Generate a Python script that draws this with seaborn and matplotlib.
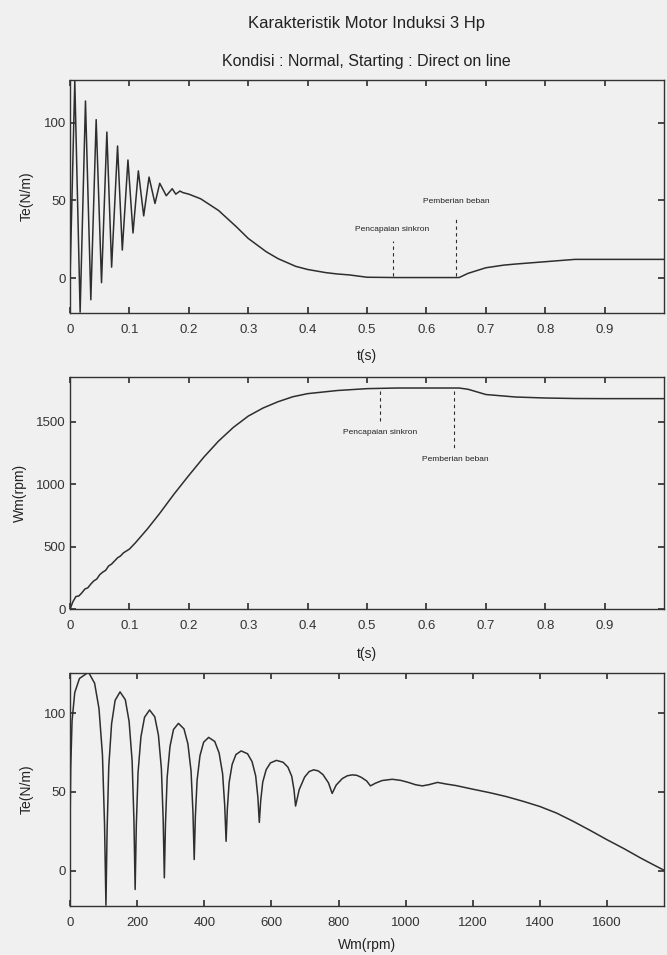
import matplotlib
matplotlib.use("Agg")
import matplotlib.pyplot as plt
import seaborn as sns
import pandas as pd

# ---------------- data ----------------
title_main = "Karakteristik Motor Induksi 3 Hp"
title_sub = "Kondisi : Normal, Starting : Direct on line"

# Panel 1: electromagnetic torque vs time
t1 = [0, 0.008, 0.017, 0.026, 0.035, 0.044, 0.053, 0.062, 0.070, 0.080, 0.088,
      0.0975, 0.106, 0.115, 0.124, 0.133, 0.143, 0.151, 0.162, 0.172, 0.178,
      0.185, 0.19, 0.2, 0.22, 0.25, 0.28, 0.3, 0.33, 0.35, 0.38, 0.4, 0.43,
      0.45, 0.47, 0.5, 0.55, 0.6, 0.655, 0.67, 0.7, 0.73, 0.75, 0.8, 0.85,
      0.9, 1.0]
te1 = [0, 127, -22, 114, -14, 102, -3, 94, 7, 85, 18, 76, 29, 69, 40, 65, 48,
       61, 53, 57.5, 54, 56, 55, 54, 51, 43.5, 33, 25.5, 17, 12.5, 7.5, 5.5,
       3.5, 2.6, 2, 0.5, 0.3, 0.3, 0.3, 3, 6.6, 8.3, 9, 10.5, 12, 12, 12]

# Panel 2: rotor speed vs time
t2 = [0, 0.005, 0.01, 0.015, 0.02, 0.025, 0.03, 0.035, 0.04, 0.045, 0.05,
      0.055, 0.06, 0.065, 0.07, 0.075, 0.08, 0.085, 0.09, 0.1, 0.11, 0.12,
      0.13, 0.15, 0.175, 0.2, 0.225, 0.25, 0.275, 0.3, 0.325, 0.35, 0.375,
      0.4, 0.45, 0.5, 0.55, 0.6, 0.655, 0.67, 0.7, 0.75, 0.8, 0.85, 0.9, 1.0]
wm2 = [0, 60, 100, 105, 130, 160, 170, 200, 225, 240, 275, 295, 310, 345, 360,
       385, 410, 425, 450, 480, 530, 585, 640, 760, 920, 1070, 1215, 1345,
       1455, 1545, 1610, 1660, 1700, 1725, 1750, 1765, 1770, 1770, 1770, 1760,
       1718, 1698, 1690, 1686, 1685, 1685]

# Panel 3: torque vs speed
wm3 = [0, 2, 6, 14, 28, 55, 73.2, 86.2, 96.6, 102.8, 107,
       110.4, 115.4, 123.8, 134.3, 149, 164.75, 176, 185, 190.4, 194,
       197.4, 202.6, 211.2, 222, 237, 252.4, 263.4, 272.2, 277.5, 281,
       284.4, 289.4, 297.8, 308.3, 323, 339.5, 351.2, 360.6, 366.2, 370,
       373.4, 378.6, 387.2, 398, 413, 431.2, 444.2, 454.6, 460.8, 465,
       468.6, 474, 483, 494.3, 510, 528.9, 542.4, 553.2, 559.7, 564,
       568.1, 574.2, 584.4, 597.2, 615, 634.95, 649.2, 660.6, 667.4, 672,
       682.8, 699, 712.5, 726, 739.75, 753.5, 770, 781,
       793, 811, 826, 841, 854.5, 868, 884, 895,
       910, 930, 960, 985, 1005, 1030, 1050, 1070, 1095, 1120, 1150,
       1200, 1250, 1300, 1350, 1400, 1450, 1500, 1550, 1600, 1650, 1700,
       1740, 1770]
te3 = [28, 65, 95, 113, 122, 126, 119, 103, 73.5, 29.5, -22,
       25.4, 66, 93.2, 108.1, 113.5, 108.5, 94.7, 69.6, 31.9, -12,
       27.9, 62.1, 84.9, 97.4, 102, 97.7, 86, 64.7, 32.7, -4.6,
       29.7, 59.2, 78.8, 89.6, 93.5, 90, 80.5, 63.2, 37.3, 7,
       34.2, 57.4, 73, 81.5, 84.6, 82, 74.7, 61.5, 41.7, 18.6,
       38.7, 55.9, 67.4, 73.7, 76, 74.2, 69.2, 60.1, 46.5, 30.6,
       44.4, 56.2, 64.1, 68.4, 70, 68.8, 65.7, 59.9, 51.2, 41,
       51.4, 59.4, 62.9, 64, 63.3, 61, 55.75, 49,
       54.3, 58.4, 60.2, 60.8, 60.5, 59.2, 56.9, 53.8,
       55.5, 57.2, 58, 57.3, 56.2, 54.5, 53.8, 54.6, 56, 55, 54,
       51.7, 49.5, 47, 44, 40.7, 36.5, 31.2, 25.5, 19.6, 14, 8,
       3.5, 0.2]

# annotations (label, x position)
ann_labels = ["Pencapaian sinkron", "Pemberian beban"]
ann_t_p1 = [0.543, 0.65]
ann_t_p2 = [0.522, 0.647]

t_ticks = [0, 0.1, 0.2, 0.3, 0.4, 0.5, 0.6, 0.7, 0.8, 0.9]
t_ticklabels = ["0", "0.1", "0.2", "0.3", "0.4", "0.5", "0.6", "0.7", "0.8", "0.9"]
te_ticks = [0, 50, 100]
wm_ticks = [0, 500, 1000, 1500]
wm_xticks = [0, 200, 400, 600, 800, 1000, 1200, 1400, 1600]

# ---------------- styling ----------------
sns.set_theme(style="ticks")
BG = "#f0f0f0"
LC = "#2e2e2e"
plt.rcParams["font.family"] = ["Liberation Sans", "DejaVu Sans"]
plt.rcParams.update({
    "figure.facecolor": BG, "axes.facecolor": BG, "savefig.facecolor": BG,
    "axes.edgecolor": "#333333", "axes.linewidth": 1.0,
    "xtick.direction": "in", "ytick.direction": "in",
    "xtick.top": True, "ytick.right": True,
    "xtick.major.size": 4, "ytick.major.size": 4,
    "xtick.color": "#333333", "ytick.color": "#333333",
    "xtick.labelsize": 9.5, "ytick.labelsize": 9.5,
    "axes.labelsize": 10, "text.color": "#222222", "axes.labelcolor": "#222222",
})

fig = plt.figure(figsize=(6.67, 9.55), dpi=100)
L, Wd = 0.105, 0.8906
ax1 = fig.add_axes([L, 0.6723, Wd, 0.9162 - 0.6723])
ax2 = fig.add_axes([L, 0.3623, Wd, 0.6052 - 0.3623])
ax3 = fig.add_axes([L, 0.0513, Wd, 0.2953 - 0.0513])

df1 = pd.DataFrame({"t": t1, "Te": te1})
df2 = pd.DataFrame({"t": t2, "Wm": wm2})
df3 = pd.DataFrame({"Wm": wm3, "Te": te3})

sns.lineplot(data=df1, x="t", y="Te", ax=ax1, color=LC, lw=1.1,
             sort=False, estimator=None)
sns.lineplot(data=df2, x="t", y="Wm", ax=ax2, color=LC, lw=1.1,
             sort=False, estimator=None)
sns.lineplot(data=df3, x="Wm", y="Te", ax=ax3, color=LC, lw=1.1,
             sort=False, estimator=None)

# panel 1 settings
ax1.set_xlim(0, 1.0)
ax1.set_ylim(-22.5, 127.5)
ax1.set_xticks(t_ticks)
ax1.set_xticklabels(t_ticklabels)
ax1.set_yticks(te_ticks)
ax1.set_xlabel("t(s)", va="center")
ax1.set_ylabel("Te(N/m)", va="center")
ax1.xaxis.set_label_coords(0.5, -0.185)
ax1.yaxis.set_label_coords(-0.0724, 0.5)

# panel 2 settings
ax2.set_xlim(0, 1.0)
ax2.set_ylim(0, 1858)
ax2.set_xticks(t_ticks)
ax2.set_xticklabels(t_ticklabels)
ax2.set_yticks(wm_ticks)
ax2.set_xlabel("t(s)", va="center")
ax2.set_ylabel("Wm(rpm)", va="center")
ax2.xaxis.set_label_coords(0.5, -0.194)
ax2.yaxis.set_label_coords(-0.084, 0.5)

# panel 3 settings
ax3.set_xlim(0, 1770)
ax3.set_ylim(-22.5, 125.5)
ax3.set_xticks(wm_xticks)
ax3.set_yticks(te_ticks)
ax3.set_xlabel("Wm(rpm)", va="center")
ax3.set_ylabel("Te(N/m)", va="center")
ax3.xaxis.set_label_coords(0.5, -0.167)
ax3.yaxis.set_label_coords(-0.0724, 0.5)

for ax in (ax1, ax2, ax3):
    for s in ax.spines.values():
        s.set_visible(True)
    ax.tick_params(axis="x", pad=8)
    ax.tick_params(axis="y", pad=3)

# annotations, panel 1
ax1.plot([ann_t_p1[0]] * 2, [1.5, 24], ls=(0, (3, 3)), color=LC, lw=0.8)
ax1.plot([ann_t_p1[1]] * 2, [1.5, 39], ls=(0, (3, 3)), color=LC, lw=0.8)
ax1.text(ann_t_p1[0], 31, ann_labels[0], ha="center", va="center", fontsize=6)
ax1.text(ann_t_p1[1], 49, ann_labels[1], ha="center", va="center", fontsize=6)

# annotations, panel 2
ax2.plot([ann_t_p2[0]] * 2, [1750, 1490], ls=(0, (3, 3)), color=LC, lw=0.8)
ax2.plot([ann_t_p2[1]] * 2, [1750, 1270], ls=(0, (3, 3)), color=LC, lw=0.8)
ax2.text(ann_t_p2[0], 1415, ann_labels[0], ha="center", va="center", fontsize=6)
ax2.text(ann_t_p2[1] + 0.002, 1195, ann_labels[1], ha="center", va="center", fontsize=6)

fig.text(0.55, 0.975, title_main, ha="center", va="center", fontsize=12)
fig.text(0.55, 0.936, title_sub, ha="center", va="center", fontsize=11.5)

fig.savefig("out.png", dpi=100, facecolor=BG)
